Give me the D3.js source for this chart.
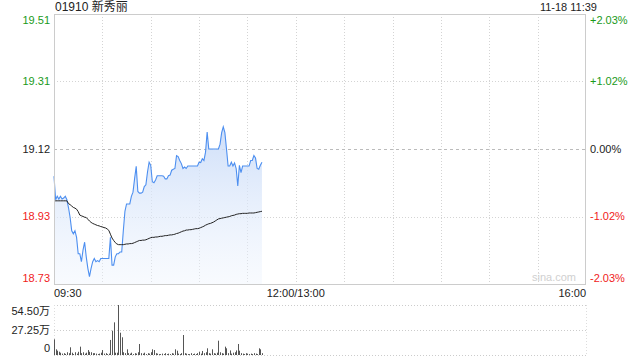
<!DOCTYPE html>
<html>
<head>
<meta charset="utf-8">
<script src="https://cdn.jsdelivr.net/npm/d3@7"></script>
<style>
  body { margin: 0; background: #fff; }
  text { font-family: "Liberation Sans", Arial, "Noto Sans CJK SC", sans-serif; }
</style>
</head>
<body>
<div id="chart"></div>
<script>
// 01910 intraday, 09:30 -> 11:39 (one value per minute)
var prevClose = 19.12;
var priceTicks = [19.51, 19.31, 19.12, 18.93, 18.73];
var pctTicks = ["+2.03%", "+1.02%", "0.00%", "-1.02%", "-2.03%"];
var volTicks = ["54.50万", "27.25万", "0"];
var timeLabels = ["09:30", "12:00/13:00", "16:00"];

var prices = [
  19.042, 18.974, 18.984, 18.976, 18.984, 18.976, 18.979, 18.984, 18.974, 18.951,
  18.923, 18.885, 18.876, 18.885, 18.866, 18.819, 18.819, 18.796, 18.829, 18.852,
  18.810, 18.777, 18.753, 18.777, 18.796, 18.805, 18.796, 18.799, 18.796, 18.805,
  18.805, 18.805, 18.805, 18.805, 18.805,
  18.866, 18.786, 18.786, 18.810, 18.819, 18.819, 18.824, 18.824, 18.885, 18.941,
  18.962, 18.962, 18.962, 18.984, 18.996, 19.035, 19.070, 18.998, 18.993, 18.993,
  18.996, 19.012, 19.017, 19.054, 19.082, 19.073, 19.026, 19.023, 19.031,
  19.043, 19.043, 19.043, 19.043,
  19.042, 19.034, 19.034, 19.043, 19.045, 19.059, 19.062, 19.064, 19.101, 19.098,
  19.087, 19.078, 19.064, 19.068, 19.064,
  19.071, 19.071, 19.071, 19.071, 19.071, 19.071, 19.071,
  19.082, 19.081, 19.092, 19.087, 19.111, 19.169,
  19.120, 19.120, 19.120, 19.120, 19.120, 19.120, 19.120,
  19.134, 19.167, 19.184, 19.167, 19.120, 19.071, 19.071, 19.082, 19.071, 19.080,
  19.064, 19.014, 19.073, 19.052,
  19.071, 19.071, 19.071, 19.071, 19.071,
  19.087, 19.087, 19.101, 19.094, 19.064, 19.062, 19.073, 19.082
];

var avgPrices = [
  18.971, 18.971, 18.971, 18.971, 18.971, 18.971, 18.971, 18.971, 18.971, 18.963,
  18.960, 18.956, 18.952, 18.950, 18.947, 18.940, 18.930, 18.928, 18.926, 18.924,
  18.923, 18.918, 18.913, 18.909, 18.906, 18.904, 18.902, 18.900, 18.899, 18.897,
  18.896, 18.894, 18.893, 18.890, 18.886, 18.875, 18.864, 18.857, 18.851, 18.847,
  18.845, 18.845, 18.845, 18.845, 18.846, 18.847, 18.847, 18.848, 18.848, 18.849,
  18.851, 18.853, 18.855, 18.857, 18.857, 18.858, 18.858, 18.859, 18.861, 18.863,
  18.865, 18.866, 18.866, 18.867, 18.867, 18.868, 18.869, 18.869, 18.870, 18.871,
  18.871, 18.872, 18.873, 18.873, 18.874, 18.875, 18.877, 18.878, 18.880, 18.882,
  18.884, 18.885, 18.887, 18.887, 18.888, 18.888, 18.889, 18.890, 18.891, 18.891,
  18.892, 18.894, 18.896, 18.898, 18.901, 18.903, 18.905, 18.906, 18.908, 18.910,
  18.913, 18.916, 18.919, 18.920, 18.921, 18.922, 18.923, 18.924, 18.925, 18.926,
  18.928, 18.929, 18.930, 18.932, 18.933, 18.934, 18.934, 18.935, 18.935, 18.935,
  18.935, 18.936, 18.936, 18.936, 18.936, 18.937, 18.938, 18.939, 18.940, 18.941
];

// volume in 万 shares
var volumes = [
  17.1, 6.2, 4.7, 3.6, 2.5, 1.5, 2.0, 1.2, 3.0, 2.0,
  8.4, 2.5, 1.0, 3.0, 1.5, 3.5, 9.1, 2.0, 3.0, 1.5,
  2.5, 5.4, 3.5, 3.0, 2.0, 2.0, 1.5, 1.0, 1.5, 2.5,
  5.4, 1.5, 2.0, 1.0, 1.5, 16.4, 26.5, 35.6, 2.5, 2.5,
  54.5, 24.3, 19.3, 3.0, 2.0, 6.2, 2.0, 1.5, 2.5, 1.0,
  2.0, 1.5, 3.0, 12.0, 2.0, 1.5, 2.5, 1.0, 2.0, 1.5,
  3.0, 6.2, 5.4, 2.0, 1.5, 1.0, 1.0, 1.5, 1.0, 2.0,
  1.0, 1.5, 1.0, 2.0, 1.5, 6.2, 4.7, 1.5, 1.0, 2.0,
  21.8, 2.0, 1.5, 1.0, 1.0, 2.0, 1.0, 1.5, 1.0, 2.0,
  3.6, 1.5, 4.4, 2.0, 3.0, 7.3, 2.0, 1.5, 6.2, 2.0,
  1.5, 2.5, 15.6, 3.0, 2.0, 1.5, 9.1, 7.3, 2.0, 5.0,
  1.5, 2.5, 3.0, 5.0, 12.0, 4.7, 2.0, 1.5, 1.0, 2.0,
  1.5, 1.0, 1.5, 1.0, 2.0, 1.5, 1.0, 7.3, 6.2, 2.0
];

var width = 640, height = 360;
var mLeft = 54, mRight = 586, mTop = 14, mBottom = 284;
var vTop = 305, vBottom = 355;
var totalMin = 330; // 150 morning + 180 afternoon
var range = prevClose * 0.0203;

var svg = d3.select("#chart").append("svg")
  .attr("width", width).attr("height", height);

var x = d3.scaleLinear().domain([0, totalMin]).range([mLeft, mRight]);
var y = d3.scaleLinear().domain([prevClose - range, prevClose + range]).range([mBottom, mTop]);
var yv = d3.scaleLinear().domain([0, 54.5]).range([vBottom, vTop]);

var defs = svg.append("defs");
var grad = defs.append("linearGradient").attr("id", "fillGrad")
  .attr("x1", 0).attr("y1", 0).attr("x2", 0).attr("y2", 1);
grad.append("stop").attr("offset", "0%").attr("stop-color", "#c9dbf8").attr("stop-opacity", 0.9);
grad.append("stop").attr("offset", "100%").attr("stop-color", "#eef4fd").attr("stop-opacity", 0.4);

// vertical grid every 30 minutes
d3.range(30, totalMin, 30).forEach(function (m) {
  svg.append("line")
    .attr("x1", Math.round(x(m)) + 0.5).attr("x2", Math.round(x(m)) + 0.5)
    .attr("y1", mTop).attr("y2", mBottom)
    .attr("stroke", "#d4d4d4").attr("stroke-dasharray", "1,2");
});

// horizontal grid
var gridVals = [prevClose + range / 2, prevClose, prevClose - range / 2];
gridVals.forEach(function (v, i) {
  svg.append("line")
    .attr("x1", mLeft).attr("x2", mRight)
    .attr("y1", Math.round(y(v)) + 0.5).attr("y2", Math.round(y(v)) + 0.5)
    .attr("stroke", i == 1 ? "#bbb" : "#d4d4d4")
    .attr("stroke-dasharray", i == 1 ? "3,3" : "1,2");
});

// watermark
svg.append("text").attr("x", mRight - 10).attr("y", mBottom - 3)
  .attr("text-anchor", "end").attr("font-size", 11).attr("fill", "#d0d0d0")
  .text("sina.com");

// area + price line
var area = d3.area()
  .x(function (d, i) { return x(i); })
  .y0(mBottom)
  .y1(function (d) { return y(d); });
svg.append("path").datum(prices).attr("d", area).attr("fill", "url(#fillGrad)");

var line = d3.line()
  .x(function (d, i) { return x(i); })
  .y(function (d) { return y(d); });
svg.append("path").datum(prices).attr("d", line)
  .attr("fill", "none").attr("stroke", "#4d8ff0").attr("stroke-width", 1.1);
svg.append("path").datum(avgPrices).attr("d", line)
  .attr("fill", "none").attr("stroke", "#222").attr("stroke-width", 1);

// main frame
svg.append("rect").attr("x", mLeft + 0.5).attr("y", mTop + 0.5)
  .attr("width", mRight - mLeft - 1).attr("height", mBottom - mTop)
  .attr("fill", "none").attr("stroke", "#ccc");

// price / percent labels
var tickPos = [prevClose + range, prevClose + range / 2, prevClose, prevClose - range / 2, prevClose - range];
function labelColor(i) { return i < 2 ? "#1a9a1a" : (i == 2 ? "#222" : "#f01c1c"); }
tickPos.forEach(function (v, i) {
  var yy = Math.min(Math.max(y(v), mTop + 6), mBottom - 6);
  svg.append("text").attr("x", 50).attr("y", yy).attr("dy", "0.35em")
    .attr("text-anchor", "end").attr("font-size", 11).attr("fill", labelColor(i))
    .text(priceTicks[i].toFixed(2));
  svg.append("text").attr("x", 590).attr("y", yy).attr("dy", "0.35em")
    .attr("font-size", 11).attr("fill", labelColor(i))
    .text(pctTicks[i]);
});

// title and time
svg.append("text").attr("x", 55).attr("y", 11).attr("font-size", 12).attr("fill", "#222")
  .text("01910 新秀丽");
svg.append("text").attr("x", 597).attr("y", 11).attr("text-anchor", "end")
  .attr("font-size", 11).attr("fill", "#222").text("11-18 11:39");

// time axis labels
var timePos = [0, 150, totalMin];
var anchors = ["start", "middle", "end"];
timeLabels.forEach(function (t, i) {
  svg.append("text").attr("x", x(timePos[i])).attr("y", 297)
    .attr("text-anchor", anchors[i]).attr("font-size", 11).attr("fill", "#222").text(t);
});

// volume pane
[vTop, (vTop + vBottom) / 2, vBottom].forEach(function (v) {
  svg.append("line").attr("x1", mLeft).attr("x2", mRight)
    .attr("y1", v + 0.5).attr("y2", v + 0.5)
    .attr("stroke", "#ccc").attr("stroke-dasharray", "1,2");
});
[mLeft, mRight].forEach(function (v) {
  svg.append("line").attr("x1", v + 0.5).attr("x2", v + 0.5)
    .attr("y1", vTop).attr("y2", vBottom)
    .attr("stroke", "#ddd").attr("stroke-dasharray", "1,2");
});

svg.selectAll(".vol").data(volumes).enter().append("rect")
  .attr("class", "vol")
  .attr("x", function (d, i) { return Math.round(x(i)); })
  .attr("y", function (d) { return yv(d); })
  .attr("width", 1)
  .attr("height", function (d) { return vBottom - yv(d); })
  .attr("fill", "#555");

var volPos = [54.5, 27.25, 0];
volTicks.forEach(function (t, i) {
  var yy = Math.min(Math.max(yv(volPos[i]), vTop + 6), vBottom - 7);
  svg.append("text").attr("x", 50).attr("y", yy).attr("dy", "0.35em")
    .attr("text-anchor", "end").attr("font-size", 11).attr("fill", "#222").text(t);
});
</script>
</body>
</html>
